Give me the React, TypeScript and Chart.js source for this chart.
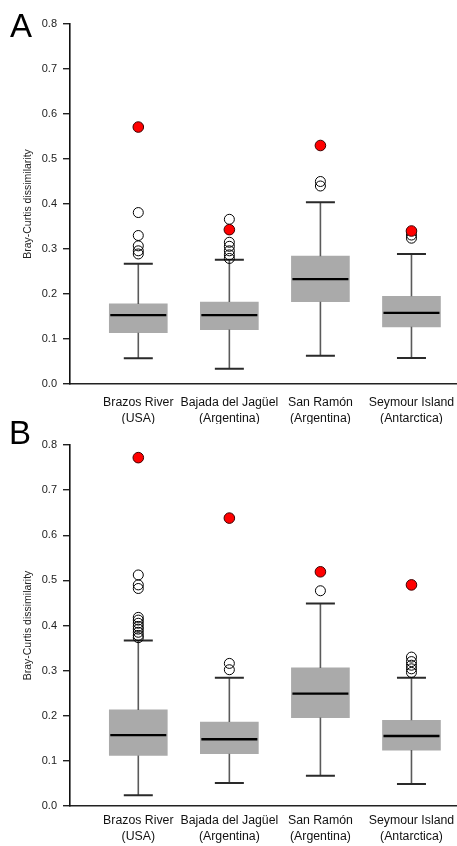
import React, { useEffect, useRef } from "react";
import { Chart, registerables } from "chart.js";

Chart.register(...registerables);

// ---------- data ----------
const categories: string[][] = [
  ["Brazos River", "(USA)"],
  ["Bajada del Jagüel", "(Argentina)"],
  ["San Ramón", "(Argentina)"],
  ["Seymour Island", "(Antarctica)"],
];
const positions = [1, 2, 3, 4];
const yTicks = [0, 0.1, 0.2, 0.3, 0.4, 0.5, 0.6, 0.7, 0.8];
const yTitle = "Bray-Curtis dissimilarity";

// Panel A
const aLow = [0.057, 0.034, 0.063, 0.058];
const aQ1 = [0.114, 0.121, 0.183, 0.127];
const aMed = [0.153, 0.153, 0.233, 0.158];
const aQ3 = [0.178, 0.182, 0.284, 0.195];
const aHigh = [0.267, 0.276, 0.404, 0.289];
const aOutliers = [
  [0.381, 0.33, 0.307, 0.296, 0.289],
  [0.366, 0.315, 0.306, 0.296, 0.287, 0.279],
  [0.45, 0.44],
  [0.331, 0.324],
];
const aRed = [0.571, 0.343, 0.53, 0.34];

// Panel B
const bLow = [0.024, 0.051, 0.067, 0.049];
const bQ1 = [0.112, 0.116, 0.196, 0.124];
const bMed = [0.157, 0.148, 0.249, 0.155];
const bQ3 = [0.213, 0.186, 0.306, 0.19];
const bHigh = [0.367, 0.284, 0.449, 0.284];
const bOutliers = [
  [0.512, 0.49, 0.482, 0.418, 0.412, 0.405, 0.398, 0.392, 0.385, 0.378, 0.373],
  [0.316, 0.302],
  [0.477],
  [0.33, 0.32, 0.312, 0.304, 0.296],
];
const bRed = [0.772, 0.638, 0.519, 0.49];

// ---------- styles ----------
const FONT = "'Liberation Sans', Arial, sans-serif";
const BOX_W = 58;
const CAP_W = 29;
const W = 457;

type PanelProps = {
  low: number[];
  q1: number[];
  med: number[];
  q3: number[];
  high: number[];
  outliers: number[][];
  red: number[];
  top: number;
  height: number;
  padTop: number;
  labelPad: number;
};

function makeWhiskerPlugin(low: number[], med: number[], q1: number[], q3: number[], high: number[]) {
  return {
    id: "whiskers",
    afterDatasetDraw(chart: any, args: any) {
      if (args.index !== 0) return;
      const { ctx } = chart;
      const xs = chart.scales.x;
      const ys = chart.scales.y;
      ctx.save();
      positions.forEach((p, i) => {
        const cx = xs.getPixelForValue(p);
        const yLo = ys.getPixelForValue(low[i]);
        const yHi = ys.getPixelForValue(high[i]);
        const yQ1 = ys.getPixelForValue(q1[i]);
        const yQ3 = ys.getPixelForValue(q3[i]);
        const yMed = ys.getPixelForValue(med[i]);
        ctx.strokeStyle = "#5a5a5a";
        ctx.lineWidth = 1.6;
        ctx.beginPath();
        ctx.moveTo(cx, yQ3);
        ctx.lineTo(cx, yHi);
        ctx.moveTo(cx, yQ1);
        ctx.lineTo(cx, yLo);
        ctx.stroke();
        ctx.strokeStyle = "#2a2a2a";
        ctx.lineWidth = 2;
        ctx.beginPath();
        ctx.moveTo(cx - CAP_W / 2, yHi);
        ctx.lineTo(cx + CAP_W / 2, yHi);
        ctx.moveTo(cx - CAP_W / 2, yLo);
        ctx.lineTo(cx + CAP_W / 2, yLo);
        ctx.stroke();
        ctx.strokeStyle = "#000";
        ctx.lineWidth = 2.4;
        ctx.beginPath();
        ctx.moveTo(cx - BOX_W / 2 + 1, yMed);
        ctx.lineTo(cx + BOX_W / 2 - 1, yMed);
        ctx.stroke();
      });
      ctx.restore();
    },
  };
}

function Panel(props: PanelProps) {
  const ref = useRef<HTMLCanvasElement | null>(null);
  useEffect(() => {
    const canvas = ref.current;
    if (!canvas) return;
    const { low, q1, med, q3, high, outliers, red, padTop, labelPad } = props;
    const boxData = positions.map((p, i) => ({ x: p, y: [q1[i], q3[i]] }));
    const openPts: { x: number; y: number }[] = [];
    outliers.forEach((arr, i) => arr.forEach((v) => openPts.push({ x: positions[i], y: v })));
    const redPts = red.map((v, i) => ({ x: positions[i], y: v }));

    const chart = new Chart(canvas, {
      type: "bar",
      data: {
        datasets: [
          {
            type: "bar",
            data: boxData as any,
            backgroundColor: "#aaaaaa",
            borderWidth: 0,
            barThickness: BOX_W,
            order: 3,
          } as any,
          {
            type: "scatter",
            data: openPts,
            pointRadius: 5,
            pointBorderWidth: 1,
            pointBorderColor: "#000",
            pointBackgroundColor: "rgba(255,255,255,0)",
            order: 2,
          } as any,
          {
            type: "scatter",
            data: redPts,
            pointRadius: 5.3,
            pointBorderWidth: 1,
            pointBorderColor: "#3a0000",
            pointBackgroundColor: "#ff0000",
            order: 1,
          } as any,
        ],
      },
      options: {
        responsive: false,
        animation: false,
        layout: { autoPadding: false, padding: { top: padTop, left: 0, right: 0, bottom: 0 } },
        plugins: {
          legend: { display: false },
          tooltip: { enabled: false },
          title: { display: false },
        },
        scales: {
          x: {
            type: "linear",
            min: 0.25,
            max: 4.5,
            offset: false,
            afterBuildTicks: (axis: any) => {
              axis.ticks = positions.map((v) => ({ value: v }));
            },
            afterFit: (scale: any) => {
              scale.height = 40;
              scale.paddingRight = 0;
              scale.paddingLeft = 0;
            },
            grid: { display: false, drawTicks: false, offset: false },
            border: { display: true, color: "#222", width: 1.6 },
            ticks: {
              autoSkip: false,
              maxRotation: 0,
              minRotation: 0,
              padding: labelPad,
              color: "#111",
              font: { family: FONT, size: 12.3, lineHeight: 1.3 },
              callback: (v: any) => {
                const idx = positions.indexOf(Number(v));
                return idx >= 0 ? categories[idx] : "";
              },
            },
          },
          y: {
            type: "linear",
            min: 0,
            max: 0.8,
            afterBuildTicks: (axis: any) => {
              axis.ticks = yTicks.map((v) => ({ value: v }));
            },
            afterFit: (scale: any) => {
              scale.width = 70;
            },
            grid: {
              display: true,
              drawOnChartArea: false,
              drawTicks: true,
              tickLength: 7,
              color: "#222",
              lineWidth: 1.4,
            },
            border: { display: true, color: "#111", width: 1.6 },
            ticks: {
              padding: 6,
              color: "#222",
              font: { family: FONT, size: 11 },
              callback: (v: any) => Number(v).toFixed(1),
            },
            title: {
              display: true,
              text: yTitle,
              color: "#222",
              font: { family: FONT, size: 10.5, lineHeight: 1.2 },
              padding: { top: 21.5, bottom: 0 },
            },
          },
        },
      },
      plugins: [makeWhiskerPlugin(low, med, q1, q3, high)],
    } as any);
    return () => chart.destroy();
  }, []);

  return (
    <canvas
      ref={ref}
      width={W}
      height={props.height}
      style={{ position: "absolute", left: 0, top: props.top, width: W, height: props.height, display: "block" }}
    />
  );
}

export default function App() {
  const letterStyle: React.CSSProperties = {
    position: "absolute",
    fontFamily: FONT,
    fontSize: 33,
    lineHeight: 1,
    color: "#000",
  };
  return (
    <div
      style={{
        position: "fixed",
        left: 0,
        top: 0,
        width: W,
        height: 846,
        overflow: "hidden",
        background: "#fff",
      }}
    >
      <Panel
        low={aLow}
        q1={aQ1}
        med={aMed}
        q3={aQ3}
        high={aHigh}
        outliers={aOutliers}
        red={aRed}
        top={0}
        height={424}
        padTop={24}
        labelPad={11}
      />
      <Panel
        low={bLow}
        q1={bQ1}
        med={bMed}
        q3={bQ3}
        high={bHigh}
        outliers={bOutliers}
        red={bRed}
        top={422}
        height={424}
        padTop={23}
        labelPad={7}
      />
      <div style={{ ...letterStyle, left: 10, top: 9 }}>A</div>
      <div style={{ ...letterStyle, left: 9, top: 416 }}>B</div>
    </div>
  );
}
